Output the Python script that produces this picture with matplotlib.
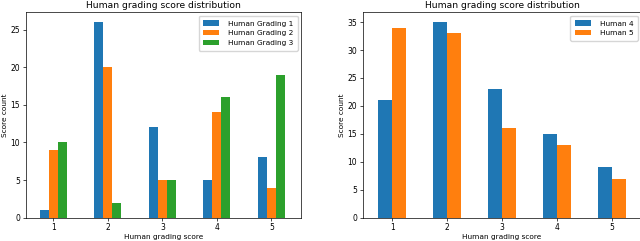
import numpy as np
import matplotlib
matplotlib.use("Agg")
from matplotlib import pyplot as plt

scores = [1, 2, 3, 4, 5]
grading1 = [1, 26, 12, 5, 8]
grading2 = [9, 20, 5, 14, 4]
grading3 = [10, 2, 5, 16, 19]
human4 = [21, 35, 23, 15, 9]
human5 = [34, 33, 16, 13, 7]

plt.rcParams['font.size'] = 5.3
plt.rcParams['axes.linewidth'] = 0.5
plt.rcParams['xtick.major.width'] = 0.5
plt.rcParams['ytick.major.width'] = 0.5
plt.rcParams['xtick.major.size'] = 2
plt.rcParams['ytick.major.size'] = 2
plt.rcParams['xtick.major.pad'] = 2
plt.rcParams['ytick.major.pad'] = 2
plt.rcParams['xtick.labelsize'] = 5.5
plt.rcParams['ytick.labelsize'] = 5.5

fig = plt.figure(figsize=(6.4, 2.41), dpi=100)

# left panel: three graders
ax1 = fig.add_axes([0.040, 0.097, 0.431, 0.852])
x = np.array(scores)
w = 0.165
ax1.bar(x - w, grading1, w, label="Human Grading 1")
ax1.bar(x, grading2, w, label="Human Grading 2")
ax1.bar(x + w, grading3, w, label="Human Grading 3")
ax1.set_xticks(x)
ax1.set_xlim(0.49, 5.55)
ax1.set_title("Human grading score distribution", fontsize=6.6, pad=3)
ax1.set_xlabel("Human grading score", labelpad=1.5)
ax1.set_ylabel("Score count", labelpad=2)
ax1.legend(loc="upper right", fontsize=5.3, borderpad=0.6, labelspacing=0.5,
           handlelength=2.2, handletextpad=1.2, framealpha=0.8, edgecolor="0.8")

# right panel: two graders
ax2 = fig.add_axes([0.5667, 0.097, 0.4353, 0.852])
w2 = 0.25
ax2.bar(x - w2 / 2, human4, w2, label="Human 4")
ax2.bar(x + w2 / 2, human5, w2, label="Human 5")
ax2.set_xticks(x)
ax2.set_xlim(0.465, 5.535)
ax2.set_title("Human grading score distribution", fontsize=6.6, pad=3)
ax2.set_xlabel("Human grading score", labelpad=1.5)
ax2.set_ylabel("Score count", labelpad=2)
ax2.legend(loc="upper right", fontsize=5.3, borderpad=0.6, labelspacing=0.5,
           handlelength=2.2, handletextpad=1.2, framealpha=0.8, edgecolor="0.8")

fig.savefig("out.png", dpi=100)
